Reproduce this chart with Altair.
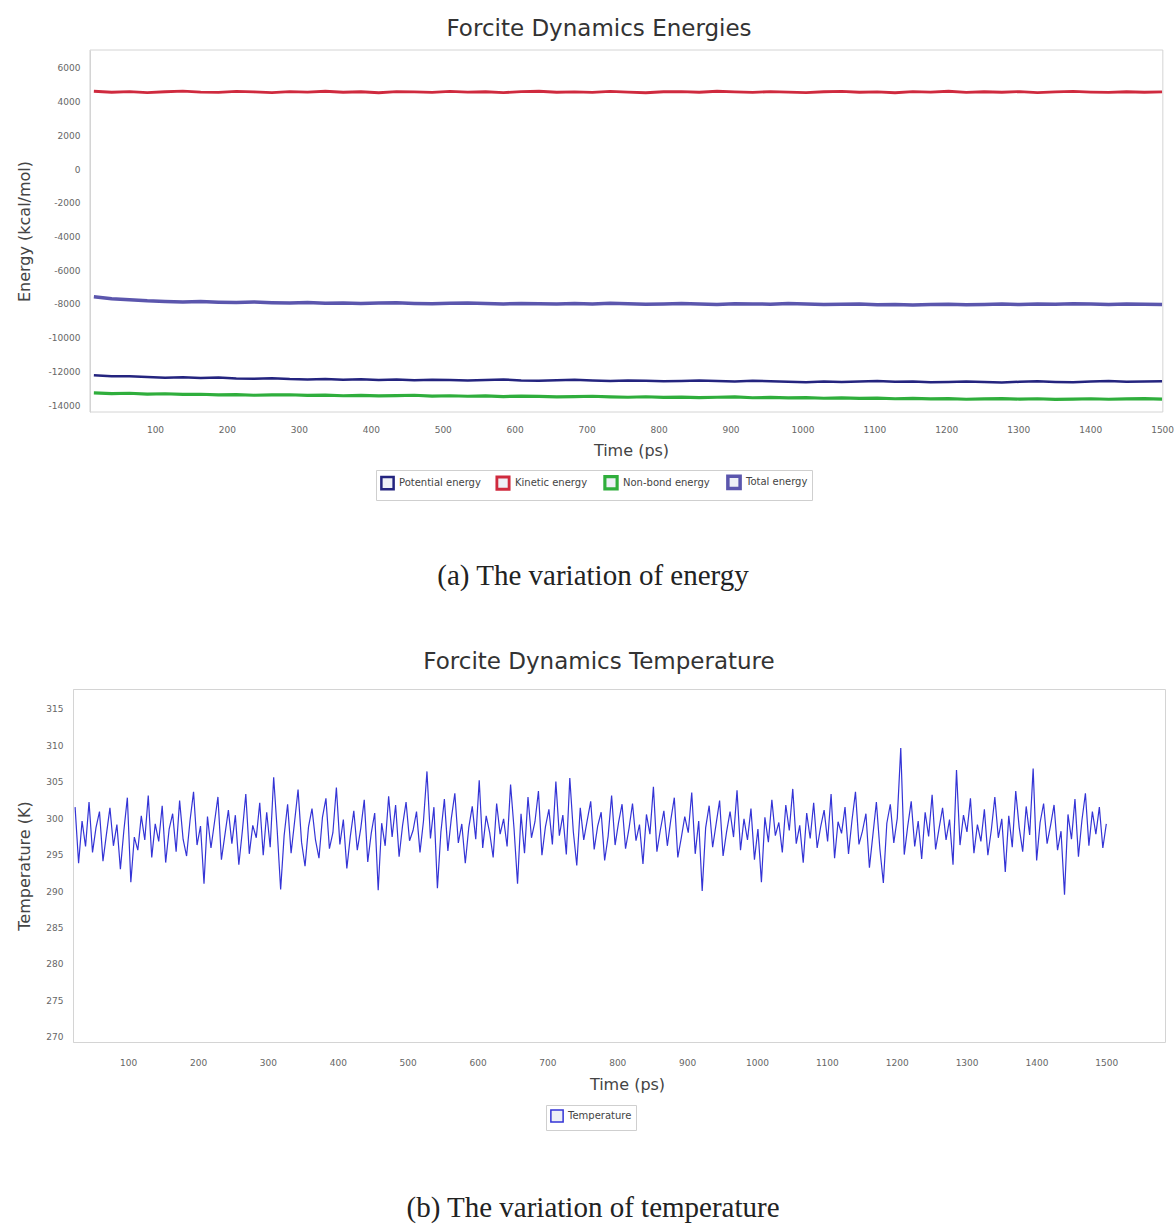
import altair as alt
import pandas as pd

# ---------------- data ----------------
energy_series = ["Potential energy", "Kinetic energy", "Non-bond energy", "Total energy"]
energy_colors = ["#24247f", "#cf2a3e", "#2fae3c", "#5b56ad"]

kinetic = [4620, 4560, 4600, 4540, 4590, 4630, 4570, 4550, 4610, 4580, 4540, 4600, 4570, 4620, 4560,
           4590, 4530, 4600, 4580, 4550, 4610, 4570, 4590, 4540, 4600, 4620, 4560, 4580, 4550, 4610,
           4570, 4530, 4590, 4600, 4560, 4620, 4580, 4550, 4600, 4570, 4540, 4590, 4610, 4560, 4580,
           4530, 4600, 4570, 4620, 4550, 4590, 4560, 4600, 4540, 4580, 4610, 4570, 4550, 4590, 4560, 4580]
total = [-7580, -7700, -7760, -7820, -7850, -7880, -7860, -7900, -7920, -7890, -7930, -7950, -7910, -7960,
         -7940, -7980, -7950, -7930, -7970, -7990, -7960, -7940, -7980, -8000, -7970, -7990, -8010, -7980,
         -8000, -7960, -7990, -8020, -8000, -7980, -8010, -8030, -7990, -8000, -8020, -7980, -8010, -8040,
         -8020, -8000, -8050, -8030, -8060, -8040, -8020, -8050, -8030, -8010, -8040, -8000, -8020, -7990,
         -8010, -8030, -8000, -8020, -8040]
potential = [-12230, -12300, -12290, -12340, -12380, -12360, -12400, -12370, -12420, -12440, -12410, -12460,
             -12480, -12450, -12500, -12470, -12510, -12490, -12530, -12500, -12520, -12550, -12510, -12480,
             -12540, -12560, -12530, -12500, -12550, -12580, -12540, -12560, -12590, -12570, -12540, -12580,
             -12600, -12560, -12590, -12620, -12650, -12610, -12640, -12600, -12580, -12620, -12600, -12650,
             -12630, -12600, -12640, -12660, -12620, -12590, -12630, -12650, -12610, -12580, -12620, -12600, -12590]
nonbond = [-13280, -13320, -13300, -13350, -13330, -13370, -13360, -13400, -13380, -13420, -13400, -13390,
           -13430, -13410, -13450, -13430, -13460, -13440, -13420, -13470, -13450, -13480, -13460, -13500,
           -13470, -13490, -13520, -13500, -13480, -13520, -13540, -13510, -13550, -13530, -13560, -13540,
           -13520, -13570, -13550, -13580, -13560, -13600, -13580, -13610, -13590, -13630, -13610, -13640,
           -13620, -13660, -13640, -13620, -13650, -13630, -13670, -13650, -13630, -13660, -13640, -13620, -13650]

temperature = [
    301.5, 293.8, 299.6, 296.1, 302.2, 295.3, 298.7, 300.9, 294.1, 297.8, 301.4, 296.2, 299.1, 293.0, 298.3, 302.8, 291.2, 297.4, 295.6, 300.3,
    297.0, 303.1, 294.6, 299.2, 296.8, 301.7, 293.9, 298.5, 300.6, 295.4, 302.4, 297.1, 294.8, 299.7, 303.6, 296.3, 298.9, 291.0, 300.2, 295.9,
    299.4, 302.9, 294.3, 297.7, 301.1, 296.5, 300.4, 293.6, 298.2, 303.3, 295.1, 299.0, 297.3, 302.1, 294.9, 300.8, 296.0, 305.6, 298.4, 290.2,
    297.6, 301.9, 295.2, 299.5, 303.9, 296.7, 293.4, 298.8, 301.3, 297.0, 294.5, 300.1, 302.7, 295.8, 298.0, 304.2, 296.4, 299.8, 293.1, 297.5,
    301.0, 295.6, 298.6, 302.5, 294.0, 297.9, 300.7, 290.1, 299.3, 296.2, 303.0, 297.4, 301.8, 294.7, 299.0, 302.2, 296.9, 298.3, 300.9, 295.3,
    299.6, 306.4, 297.2, 301.5, 290.4, 298.1, 302.6, 295.5, 300.0, 303.4, 296.6, 299.2, 293.8, 298.7, 301.6, 297.1, 305.2, 295.9, 300.3, 298.0,
    294.6, 302.0, 297.8, 299.9, 296.1, 304.6, 298.5, 291.0, 300.6, 295.2, 302.9, 297.3, 299.5, 303.7, 294.9, 298.8, 301.2, 296.4, 305.0, 297.6,
    300.4, 295.0, 305.5, 298.2, 293.5, 301.4, 297.0, 299.7, 302.3, 295.7, 298.9, 300.8, 294.2, 297.5, 303.1, 296.3, 299.4, 301.9, 295.8, 298.6,
    302.0, 296.9, 299.1, 293.7, 300.5, 297.8, 304.3, 295.4, 298.4, 301.0, 296.2, 299.8, 302.8, 294.6, 297.3, 300.2, 298.0, 303.5, 295.1, 299.6,
    290.0, 298.7, 301.7, 296.0, 299.2, 302.4, 294.8, 298.1, 300.9, 297.4, 303.8, 295.6, 299.9, 297.0, 301.3, 294.3, 298.5, 291.2, 300.1, 296.7,
    302.5, 297.6, 299.4, 295.3, 301.8, 298.3, 304.0, 296.5, 299.0, 293.9, 300.7, 297.2, 302.1, 295.9, 298.8, 301.1, 296.8, 303.3, 294.5, 299.5,
    297.9, 301.5, 295.1, 299.7, 303.6, 296.4, 298.2, 300.6, 293.2, 297.7, 302.2, 295.8, 291.1, 299.3, 301.9, 296.6, 300.0, 309.6, 295.0, 298.9,
    302.3, 296.1, 299.6, 294.4, 300.8, 297.5, 303.2, 295.7, 298.6, 301.4, 297.0, 299.8, 293.6, 306.6, 296.3, 300.4, 298.1, 302.7, 295.2, 299.1,
    296.8, 301.2, 294.9, 298.4, 302.9, 297.3, 299.9, 292.6, 300.3, 296.0, 303.7, 298.7, 295.4, 301.6, 297.7, 306.8, 294.2, 299.4, 302.0, 296.5,
    299.0, 301.8, 295.6, 298.2, 289.5, 300.5, 297.1, 302.6, 294.7, 299.7, 303.4, 296.2, 300.9, 297.8, 301.5, 295.9, 299.2,
]

time_ticks = [100, 200, 300, 400, 500, 600, 700, 800, 900, 1000, 1100, 1200, 1300, 1400, 1500]
energy_ticks = [6000, 4000, 2000, 0, -2000, -4000, -6000, -8000, -10000, -12000, -14000]
temp_ticks = [315, 310, 305, 300, 295, 290, 285, 280, 275, 270]

title_a = "Forcite Dynamics Energies"
title_b = "Forcite Dynamics Temperature"
caption_a = "(a) The variation of energy"
caption_b = "(b) The variation of temperature"

# ---------------- tables ----------------
energy_values = {"Potential energy": potential, "Kinetic energy": kinetic,
                 "Non-bond energy": nonbond, "Total energy": total}
rows = []
for name, vals in energy_values.items():
    n = len(vals)
    for i, v in enumerate(vals):
        rows.append({"time": 15 + i * 1485 / (n - 1), "energy": v, "series": name})
edf = pd.DataFrame(rows)

nT = len(temperature)
tdf = pd.DataFrame({"time": [24 + i * 1476 / (nT - 1) for i in range(nT)],
                    "temp": temperature, "series": "Temperature"})

W = 1092
EH = 362
TH = 353
E_XDOM = [-14, 1504]
E_YDOM = [-14415, 7068]
T_XDOM = [21, 1584]
T_YDOM = [269.3, 317.7]
FRAME = "#d4d4d4"
MINUS = "replace(datum.label, '\u2212', '-')"

# ---------------- energy chart ----------------
ex = alt.X("time:Q", scale=alt.Scale(domain=E_XDOM, nice=False, zero=False),
           axis=alt.Axis(values=time_ticks, format="d", title="Time (ps)", domain=False,
                         ticks=False, grid=False, labelPadding=13, titlePadding=8,
                         labelOverlap=False, titleX=558))
ey = alt.Y("energy:Q", scale=alt.Scale(domain=E_YDOM, nice=False, zero=False),
           axis=alt.Axis(values=energy_ticks, format="d", title="Energy (kcal/mol)", offset=-17,
                         domain=True, domainColor=FRAME, ticks=False, grid=False,
                         labelPadding=10, titlePadding=16, labelOverlap=False, labelExpr=MINUS))

energy_lines = alt.Chart(edf).mark_line(clip=True).encode(
    x=ex, y=ey,
    color=alt.Color("series:N", scale=alt.Scale(domain=energy_series, range=energy_colors),
                    legend=alt.Legend(orient="none", legendX=303, legendY=420, direction="horizontal",
                                      title=None, symbolType="square", symbolSize=150,
                                      symbolStrokeWidth=1.5, symbolFillColor="#eef0f6",
                                      labelFontSize=10, labelColor="#444", columnPadding=10,
                                      strokeColor="#cfcfcf", padding=4)),
    strokeWidth=alt.StrokeWidth("series:N", scale=alt.Scale(domain=energy_series, range=[2.5, 3.5, 4.5, 2.5]),
                                legend=None),
)
# light frame of the energy plot area (left edge at t = 9.6 ps, right edge at 1501 ps)
energy_frame = alt.Chart(pd.DataFrame({"a": [0]})).mark_rect(filled=False, stroke=FRAME, strokeWidth=1).encode(
    x=alt.datum(9.6), x2=alt.datum(1501), y=alt.value(0), y2=alt.value(EH))

energy_chart = alt.layer(energy_lines, energy_frame).properties(
    width=W, height=EH,
    title=alt.TitleParams(title_a, dx=-20, offset=9))

# ---------------- temperature chart ----------------
tx = alt.X("time:Q", scale=alt.Scale(domain=T_XDOM, nice=False, zero=False),
           axis=alt.Axis(values=time_ticks, format="d", title="Time (ps)", domain=False,
                         ticks=False, grid=False, labelPadding=16, titlePadding=9,
                         labelOverlap=False, titleX=554))
ty = alt.Y("temp:Q", scale=alt.Scale(domain=T_YDOM, nice=False, zero=False),
           axis=alt.Axis(values=temp_ticks, format="d", title="Temperature (K)",
                         domain=True, domainColor=FRAME, ticks=False, grid=False,
                         labelPadding=10, titlePadding=13, labelOverlap=False))
temp_chart = alt.Chart(tdf).mark_line(clip=True, strokeWidth=1.2).encode(
    x=tx, y=ty,
    color=alt.Color("series:N", scale=alt.Scale(domain=["Temperature"], range=["#3434d6"]),
                    legend=alt.Legend(orient="none", legendX=473, legendY=416, direction="horizontal",
                                      title=None, symbolType="square", symbolSize=150,
                                      symbolStrokeWidth=1.5, symbolFillColor="#eef0f6",
                                      labelFontSize=10, labelColor="#444",
                                      strokeColor="#cfcfcf", padding=4)),
).properties(
    width=W, height=TH, view=alt.ViewBackground(stroke=FRAME),
    title=alt.TitleParams(title_b, dx=-20, offset=15))


# ---------------- captions ----------------
def caption(text, h, dy):
    return alt.Chart(pd.DataFrame({"c": [text]})).mark_text(
        font="Liberation Serif", fontSize=29, color="#222", baseline="middle", dx=-26, dy=dy
    ).encode(text="c:N").properties(width=W, height=h)


chart = alt.vconcat(
    energy_chart, caption(caption_a, 149, 0), temp_chart, caption(caption_b, 98, 28), spacing=0
).resolve_scale(color="independent", strokeWidth="independent").resolve_legend(
    color="independent"
).properties(
    padding={"left": 16, "top": 17, "right": 0, "bottom": 0}, background="white"
).configure_view(stroke=None).configure_axis(
    labelFont="DejaVu Sans", labelFontSize=9, labelColor="#666",
    titleFont="DejaVu Sans", titleFontSize=16, titleColor="#444", titleFontWeight="normal"
).configure_title(
    font="DejaVu Sans", fontSize=23, fontWeight="normal", color="#333", anchor="middle"
).configure_legend(labelFont="DejaVu Sans")

chart.save("out.html", embed_options={"renderer": "svg", "actions": False})
